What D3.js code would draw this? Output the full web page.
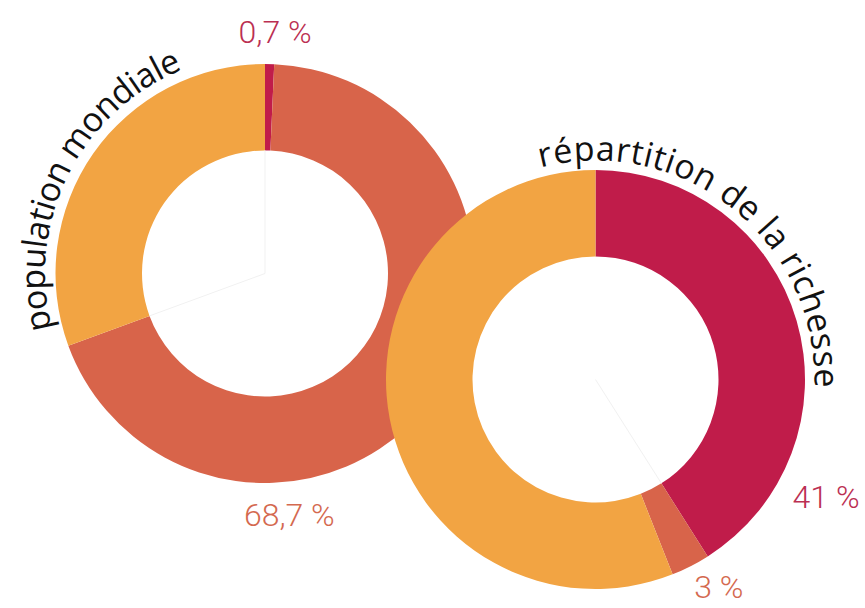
<!DOCTYPE html>
<html>
<head>
<meta charset="utf-8">
<script src="https://cdnjs.cloudflare.com/ajax/libs/d3/7.8.5/d3.min.js"></script>
<style>
  html, body { margin: 0; padding: 0; background: #ffffff; }
  svg { display: block; }
</style>
</head>
<body>
<svg></svg>
<script>
var screenWidth = 865
var screenHeight = 608

// data
var groups = ["les plus riches", "les plus pauvres", "les autres"]
var populationValues = [0.7, 68.7, 30.6]
var wealthValues = [41, 3, 56]
var populationLabels = ["0,7 %", "68,7 %", null]
var wealthLabels = ["41 %", "3 %", null]
var titles = ["population mondiale", "répartition de la richesse"]

var colors = ["#c01c4a", "#d8644a", "#f2a443"]
var labelColors = ["#bb2f52", "#d4694f", null]

var outerR = 209.5
var innerR = 123

var svg = d3.select('svg')
svg.attr("width", screenWidth)
svg.attr("height", screenHeight)

var pie = d3.pie().sort(null).value(d => d)
var arc = d3.arc().innerRadius(innerR).outerRadius(outerR)

function toRad(deg){ return deg * Math.PI / 180 }

function polar(a, r){
  return [Math.sin(a) * r, -Math.cos(a) * r]
}

function drawDonut(id, cx, cy, values, labels, labelPos, title, titleArc){
  var g = svg.append("g").attr("id", id).attr("transform", "translate(" + cx + "," + cy + ")")
  var slices = pie(values)

  g.selectAll("path.slice")
    .data(slices)
    .enter().append("path")
    .attr("class", "slice")
    .attr("d", arc)
    .attr("fill", (d, i) => colors[i])

  // faint seams left in the hole
  g.selectAll("line.seam")
    .data(slices.filter((d, i) => labelPos.seams.indexOf(i) >= 0))
    .enter().append("line")
    .attr("x1", 0).attr("y1", 0)
    .attr("x2", d => polar(d.startAngle, innerR)[0])
    .attr("y2", d => polar(d.startAngle, innerR)[1])
    .attr("stroke", "#f1f1f1")
    .attr("stroke-width", 1)

  slices.forEach(function(d, i){
    if(!labels[i]) return
    var p = polar(toRad(labelPos.angles[i]), labelPos.radii[i])
    g.append("text")
      .attr("x", p[0])
      .attr("y", p[1])
      .attr("text-anchor", "middle")
      .attr("font-family", "Roboto, 'DejaVu Sans', sans-serif")
      .attr("font-weight", 300)
      .attr("font-size", 32)
      .attr("fill", labelColors[i])
      .text(labels[i])
  })

  // title running along the ring
  var a0 = toRad(titleArc[0]), a1 = toRad(titleArc[1]), r = titleArc[2]
  var path = d3.path()
  var s = polar(a0, r)
  path.moveTo(s[0], s[1])
  path.arc(0, 0, r, a0 - Math.PI / 2, a1 - Math.PI / 2, false)
  g.append("path")
    .attr("id", id + "-titlePath")
    .attr("d", path.toString())
    .attr("fill", "none")

  g.append("text")
    .attr("font-family", "'Open Sans', sans-serif")
    .attr("font-size", titleArc[3])
    .attr("fill", "#111111")
    .append("textPath")
    .attr("href", "#" + id + "-titlePath")
    .attr("textLength", r * (a1 - a0))
    .attr("lengthAdjust", "spacing")
    .text(title)
}

drawDonut("population", 265, 273.5, populationValues, populationLabels,
  {angles: [2.5, 174.5], radii: [230.7, 253.7], seams: [0, 2]},
  titles[0], [-104.5, -22, 220, 34])

drawDonut("richesse", 595.5, 379.5, wealthValues, wealthLabels,
  {angles: [119.1, 150.6], radii: [263.9, 251.2], seams: [1]},
  titles[1], [-14.5, 92, 219, 34])
</script>
</body>
</html>
